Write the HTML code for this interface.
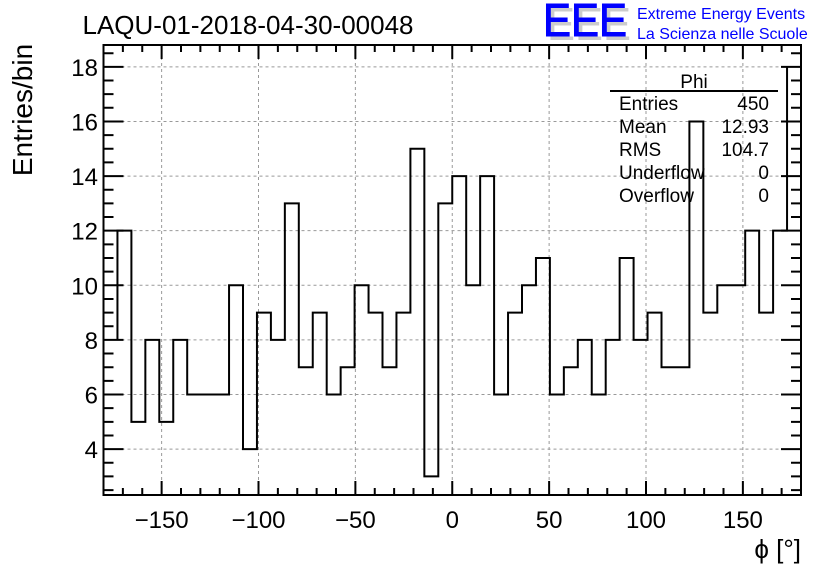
<!DOCTYPE html>
<html><head><meta charset="utf-8"><style>
html,body{margin:0;padding:0;background:#fff;}
svg{display:block;font-family:"Liberation Sans",sans-serif;}
</style></head><body>
<svg id="chart" width="836" height="572" viewBox="0 0 836 572" xmlns="http://www.w3.org/2000/svg">
<rect x="0" y="0" width="836" height="572" fill="#fff"/>
<text x="248" y="34" font-size="26" text-anchor="middle">LAQU-01-2018-04-30-00048</text>
<g>
<text x="547" y="40" font-size="46" fill="#ccc" textLength="84" lengthAdjust="spacingAndGlyphs">EEE</text>
<text x="543" y="36" font-size="46" fill="#0000ff" textLength="84" lengthAdjust="spacingAndGlyphs" stroke="#0000ff" stroke-width="1">EEE</text>
<text x="637" y="19" font-size="16" fill="#0000ff">Extreme Energy Events</text>
<text x="637" y="39" font-size="16" fill="#0000ff">La Scienza nelle Scuole</text>
</g>
<g id="grid"></g>
<g id="hist"></g>
<g id="axes"></g>
<text transform="translate(32,110) rotate(-90)" font-size="28" text-anchor="middle">Entries/bin</text>
<text x="801" y="558" font-size="26" text-anchor="end">ϕ [°]</text>
<g font-size="19">
<text x="694" y="88" text-anchor="middle">Phi</text>
<line x1="610" y1="91" x2="778" y2="91" stroke="#000" stroke-width="2"/>
<text x="619" y="110">Entries</text><text x="769" y="110" text-anchor="end">450</text>
<text x="619" y="133">Mean</text><text x="769" y="133" text-anchor="end">12.93</text>
<text x="619" y="156">RMS</text><text x="769" y="156" text-anchor="end">104.7</text>
<text x="619" y="179">Underflow</text><text x="769" y="179" text-anchor="end">0</text>
<text x="619" y="202">Overflow</text><text x="769" y="202" text-anchor="end">0</text>
</g>
</svg>
<script>
const counts = [8,12,5,8,5,8,6,6,6,10,4,9,8,13,7,9,6,7,10,9,7,9,15,3,13,14,10,14,6,9,10,11,6,7,8,6,8,11,8,9,7,7,16,9,10,10,12,9,12,18];
const binLow = -180, binHigh = 180;
const xTicks = [-150,-100,-50,0,50,100,150];
const xTickLabels = ["\u2212150","\u2212100","\u221250","0","50","100","150"];
const yTicks = [4,6,8,10,12,14,16,18];
const yTickLabels = ["4","6","8","10","12","14","16","18"];

const L=103.5,R=801,T=45,B=495;
const xmin=-180,xmax=180,ymin=2.32,ymax=18.8;
const X=v=>L+(v-xmin)/(xmax-xmin)*(R-L);
const Y=v=>B-(v-ymin)/(ymax-ymin)*(B-T);
const NS="http://www.w3.org/2000/svg";
function mk(tag,attrs,parent){const e=document.createElementNS(NS,tag);for(const k in attrs)e.setAttribute(k,attrs[k]);parent.appendChild(e);return e;}
const grid=document.getElementById('grid'),hist=document.getElementById('hist'),axes=document.getElementById('axes');

xTicks.forEach(v=>{const l=mk('line',{x1:X(v),x2:X(v),y1:T,y2:B,stroke:'#999','stroke-dasharray':'3,3','stroke-width':1},grid);

});
yTicks.forEach(v=>{const l=mk('line',{x1:L,x2:R,y1:Y(v),y2:Y(v),stroke:'#999','stroke-dasharray':'3,3','stroke-width':1},grid);

});

const n=counts.length,w=(binHigh-binLow)/n;
let d=`M${X(binLow+w)},${Y(counts[0])}`;
for(let i=1;i<n-1;i++){const x0=binLow+i*w,x1=x0+w;d+=` L${X(x0)},${Y(counts[i])} L${X(x1)},${Y(counts[i])}`;}
d+=` L${X(binHigh-w)},${Y(counts[n-1])}`;
const p=mk('path',{d:d,fill:'none',stroke:'#000','stroke-width':2},hist);



const fr=mk('rect',{x:L,y:T,width:R-L,height:B-T,fill:'none',stroke:'#000','stroke-width':2},axes);


let td='';
for(let v=-180;v<=180;v+=10){const maj=v%50===0;const h=maj?14:7;td+=`M${X(v)},${B}V${B-h}M${X(v)},${T}V${T+h}`;}
for(let v=2.5;v<=18.8;v+=0.5){const maj=Math.abs(v%2)<1e-6;const h=maj?20:10;td+=`M${L},${Y(v)}H${L+h}M${R},${Y(v)}H${R-(maj?20:10)}`;}
const tk=mk('path',{d:td,stroke:'#000','stroke-width':2,fill:'none'},axes);


xTicks.forEach((v,i)=>{const t=mk('text',{x:X(v),y:528,'font-size':24,'text-anchor':'middle'},axes);t.textContent=xTickLabels[i];

});
yTicks.forEach((v,i)=>{const t=mk('text',{x:98,y:Y(v)+9,'font-size':24,'text-anchor':'end'},axes);t.textContent=yTickLabels[i];

});
</script>
</body></html>
